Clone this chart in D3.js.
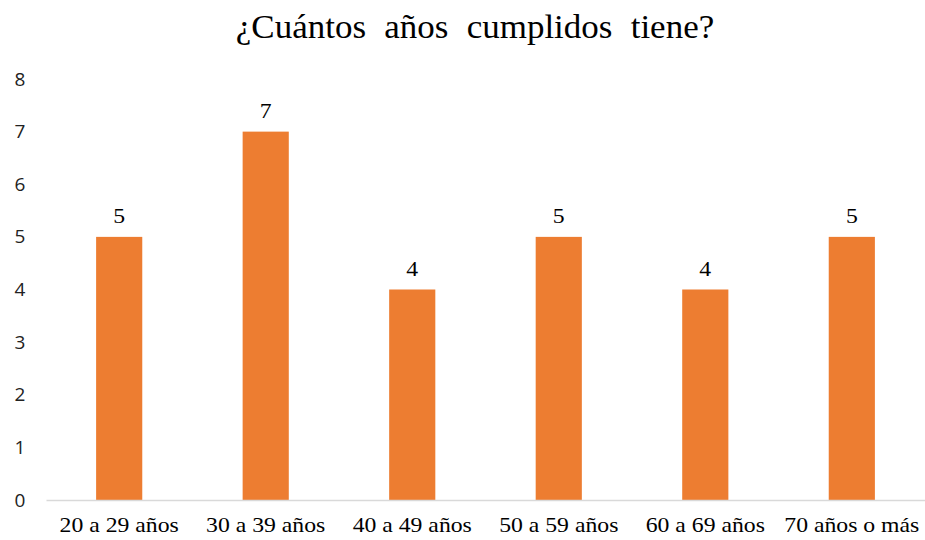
<html>
<head>
<script src="https://d3js.org/d3.v7.min.js" charset="utf-8"></script>
<style>
  body { margin: 0; background: #fff; }
</style>
</head>
<body>
<script>
const categories = ['20 a 29 años', '30 a 39 años', '40 a 49 años', '50 a 59 años', '60 a 69 años', '70 años o más'];
const counts = [5, 7, 4, 5, 4, 5];
const yTicks = [0, 1, 2, 3, 4, 5, 6, 7, 8];
const title = '¿Cuántos años cumplidos tiene?';

const w = 925, h = 540;
const margin = {left: 46, right: 0, top: 79, bottom: 40};
const stretch = 1.13; // the original looks a bit wider than tall

const svg = d3.select('body').append('svg')
    .attr('width', w)
    .attr('height', h);

const xScale = d3.scaleBand()
    .domain(categories)
    .range([margin.left, w - margin.right])
    .paddingInner(0.685)
    .paddingOuter(0.342);

const yScale = d3.scaleLinear()
    .domain([0, 8])
    .range([h - margin.bottom, margin.top]);

svg.append('text')
    .attr('transform', 'translate(475,38) scale(1.06,1)')
    .attr('text-anchor', 'middle')
    .style('font-family', '"Liberation Serif", serif')
    .style('font-size', '33px')
    .style('word-spacing', '9px')
    .attr('fill', '#000')
    .text(title);

svg.selectAll('.bar')
    .data(counts)
    .enter()
    .append('rect')
    .attr('class', 'bar')
    .attr('x', (d, i) => xScale(categories[i]))
    .attr('y', d => yScale(d))
    .attr('width', xScale.bandwidth())
    .attr('height', d => yScale(0) - yScale(d))
    .attr('fill', '#ED7D31');

svg.selectAll('.lbl')
    .data(counts)
    .enter()
    .append('text')
    .attr('class', 'lbl')
    .attr('transform', (d, i) => 'translate(' + (xScale(categories[i]) + xScale.bandwidth() / 2) + ',' + (yScale(d) - 14) + ') scale(' + stretch + ',1)')
    .attr('text-anchor', 'middle')
    .style('font-family', '"Liberation Serif", serif')
    .style('font-size', '21px')
    .attr('fill', '#000')
    .text(d => d);

// x axis
const xAxis = d3.axisBottom(xScale).tickSize(0).tickPadding(14);
const gx = svg.append('g')
    .attr('transform', 'translate(0,' + yScale(0) + ')')
    .call(xAxis);
gx.select('.domain').attr('stroke', '#d9d9d9').attr('stroke-width', 1.5);
gx.selectAll('text')
    .attr('dy', null)
    .attr('y', 32)
    .attr('transform', 'scale(' + stretch + ',1)')
    .style('font-family', '"Liberation Serif", serif')
    .style('font-size', '21px')
    .attr('fill', '#000');

// y axis
const yAxis = d3.axisLeft(yScale).tickValues(yTicks).tickSize(0).tickPadding(0);
const gy = svg.append('g')
    .attr('transform', 'translate(27,0)')
    .call(yAxis);
gy.select('.domain').remove();
gy.selectAll('text')
    .attr('text-anchor', 'middle')
    .attr('x', -7)
    .style('font-family', '"Open Sans", sans-serif')
    .style('font-size', '19px')
    .attr('fill', '#222');
</script>
</body>
</html>
